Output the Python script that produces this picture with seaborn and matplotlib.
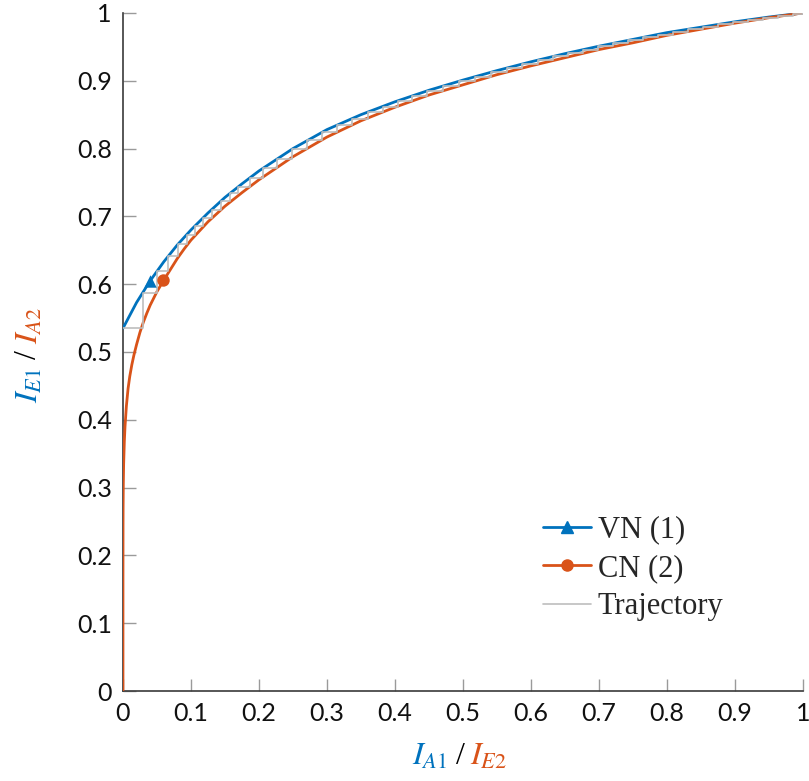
import numpy as np
import pandas as pd
import seaborn as sns
import matplotlib
matplotlib.use("Agg")
import matplotlib.pyplot as plt
from matplotlib.lines import Line2D

# VN (1): I_E1 as a function of I_A1
vn_x = [0.0, 0.02, 0.04, 0.06, 0.08, 0.10, 0.125, 0.15, 0.175, 0.20, 0.25, 0.30, 0.35,
        0.40, 0.45, 0.50, 0.55, 0.60, 0.65, 0.70, 0.75, 0.80, 0.85, 0.90, 0.95, 1.0]
vn_y = [0.535, 0.573, 0.605, 0.633, 0.658, 0.680, 0.705, 0.728, 0.748, 0.767, 0.800, 0.828, 0.850,
        0.869, 0.886, 0.901, 0.915, 0.928, 0.940, 0.951, 0.961, 0.971, 0.979, 0.987, 0.994, 1.0]

# CN (2): I_A2 as a function of I_E2
cn_x = [0.0, 0.000001, 0.00001, 0.0001, 0.0002, 0.0005, 0.001, 0.002, 0.003, 0.005, 0.0075,
        0.01, 0.013, 0.016, 0.02, 0.025, 0.03, 0.035, 0.04, 0.05, 0.06, 0.07, 0.08, 0.09,
        0.10, 0.125, 0.15, 0.175, 0.20, 0.25, 0.30, 0.35, 0.40, 0.45, 0.50, 0.55, 0.60,
        0.65, 0.70, 0.75, 0.80, 0.85, 0.90, 0.95, 1.0]
cn_y = [0.0, 0.11, 0.17, 0.245, 0.27, 0.305, 0.335, 0.368, 0.390, 0.420, 0.446,
        0.464, 0.481, 0.495, 0.511, 0.529, 0.544, 0.557, 0.569, 0.589, 0.606, 0.622, 0.638, 0.652,
        0.665, 0.692, 0.715, 0.735, 0.754, 0.788, 0.817, 0.841, 0.861, 0.879, 0.894, 0.909, 0.922,
        0.934, 0.946, 0.956, 0.967, 0.976, 0.985, 0.993, 1.0]

# Marker positions on each curve
vn_mark_x = [0.040]
vn_mark_y = [0.604]
cn_mark_x = [0.059]
cn_mark_y = [0.606]

# Iteration trajectory: operating points on the VN curve
traj_x = [0.000, 0.029, 0.050, 0.066, 0.081, 0.094, 0.106, 0.118, 0.131, 0.144, 0.157, 0.169,
          0.187, 0.206, 0.226, 0.249, 0.271, 0.293, 0.315, 0.337, 0.360, 0.382, 0.404, 0.425,
          0.447, 0.471, 0.494, 0.518, 0.541, 0.565, 0.587, 0.610, 0.632, 0.654, 0.676, 0.699,
          0.721, 0.743, 0.765, 0.787, 0.809, 0.831, 0.853, 0.875, 0.897, 0.919, 0.941, 0.963,
          0.985, 1.000]
traj_y = [0.535, 0.587, 0.619, 0.641, 0.659, 0.673, 0.686, 0.698, 0.710, 0.722, 0.734, 0.743,
          0.757, 0.771, 0.784, 0.799, 0.812, 0.824, 0.835, 0.844, 0.854, 0.862, 0.870, 0.877,
          0.885, 0.892, 0.899, 0.906, 0.913, 0.919, 0.925, 0.930, 0.936, 0.941, 0.946, 0.951,
          0.955, 0.960, 0.964, 0.968, 0.972, 0.976, 0.979, 0.983, 0.987, 0.990, 0.993, 0.995,
          0.998, 1.000]

tick_values = [0.0, 0.1, 0.2, 0.3, 0.4, 0.5, 0.6, 0.7, 0.8, 0.9, 1.0]
tick_labels = ["0", "0.1", "0.2", "0.3", "0.4", "0.5", "0.6", "0.7", "0.8", "0.9", "1"]
series_labels = ["VN (1)", "CN (2)", "Trajectory"]

BLUE = "#0072BD"
ORANGE = "#D95319"
GRAY = "#BDBDBD"

sns.set_style("ticks")
plt.rcParams["font.family"] = ["Lato", "DejaVu Sans"]
plt.rcParams["mathtext.fontset"] = "stix"

fig = plt.figure(figsize=(8.09, 7.81), dpi=100)
ax = fig.add_axes([0.152, 0.1152, 0.8405, 0.8682])

vn = pd.DataFrame({"x": vn_x, "y": vn_y})
cn = pd.DataFrame({"x": cn_x, "y": cn_y})
traj = pd.DataFrame({"x": traj_x, "y": traj_y})

sns.lineplot(data=vn, x="x", y="y", ax=ax, color=BLUE, lw=2.0, sort=False, estimator=None, zorder=3)
sns.lineplot(data=cn, x="x", y="y", ax=ax, color=ORANGE, lw=2.0, sort=False, estimator=None, zorder=3)
sns.lineplot(data=traj, x="x", y="y", ax=ax, color=GRAY, lw=1.2, sort=False, estimator=None,
             drawstyle="steps-post", zorder=4)
sns.scatterplot(x=vn_mark_x, y=vn_mark_y, ax=ax, color=BLUE, marker="^", s=80, edgecolor=BLUE,
                linewidth=0, zorder=5)
sns.scatterplot(x=cn_mark_x, y=cn_mark_y, ax=ax, color=ORANGE, marker="o", s=80, edgecolor=ORANGE,
                linewidth=0, zorder=5)

ax.set_xlim(0, 1)
ax.set_ylim(0, 1)
ax.set_xticks(tick_values)
ax.set_xticklabels(tick_labels)
ax.set_yticks(tick_values)
ax.set_yticklabels(tick_labels)
ax.tick_params(direction="in", length=9, width=1.0, color="#9a9a9a", labelsize=18,
               labelcolor="#111111")
ax.tick_params(axis="x", pad=8)
ax.tick_params(axis="y", pad=8)
for side in ("top", "right"):
    ax.spines[side].set_visible(False)
for side in ("left", "bottom"):
    ax.spines[side].set_color("#3a3a3a")
    ax.spines[side].set_linewidth(1.2)
ax.set_xlabel("")
ax.set_ylabel("")

# Two-colour axis labels
lab = dict(fontsize=23, xycoords="axes fraction", textcoords="offset points")
ax.annotate(r"$I_{A1}$", xy=(0.5, 0), xytext=(-11, -47), ha="right", va="center", color=BLUE, **lab)
ax.annotate("/", xy=(0.5, 0), xytext=(-2, -47), ha="center", va="center", color="black",
            family="Liberation Serif", **lab)
ax.annotate(r"$I_{E2}$", xy=(0.5, 0), xytext=(5, -47), ha="left", va="center", color=ORANGE, **lab)

ax.annotate(r"$I_{E1}$", xy=(0, 0.5), xytext=(-68, -11), ha="center", va="top", rotation=90,
            color=BLUE, **lab)
ax.annotate("/", xy=(0, 0.5), xytext=(-68, -2), ha="center", va="center", rotation=90,
            color="black", family="Liberation Serif", **lab)
ax.annotate(r"$I_{A2}$", xy=(0, 0.5), xytext=(-68, 6), ha="center", va="bottom", rotation=90,
            color=ORANGE, **lab)

handles = [
    Line2D([], [], color=BLUE, lw=2.0, marker="^", ms=8),
    Line2D([], [], color=ORANGE, lw=2.0, marker="o", ms=8),
    Line2D([], [], color=GRAY, lw=1.2),
]
ax.legend(handles, series_labels, loc="upper left", bbox_to_anchor=(0.600, 0.277), frameon=False,
          prop={"family": "Liberation Serif", "size": 22}, handlelength=1.55, handletextpad=0.23,
          labelspacing=0.31, borderaxespad=0)

fig.savefig("out.png", dpi=100)
